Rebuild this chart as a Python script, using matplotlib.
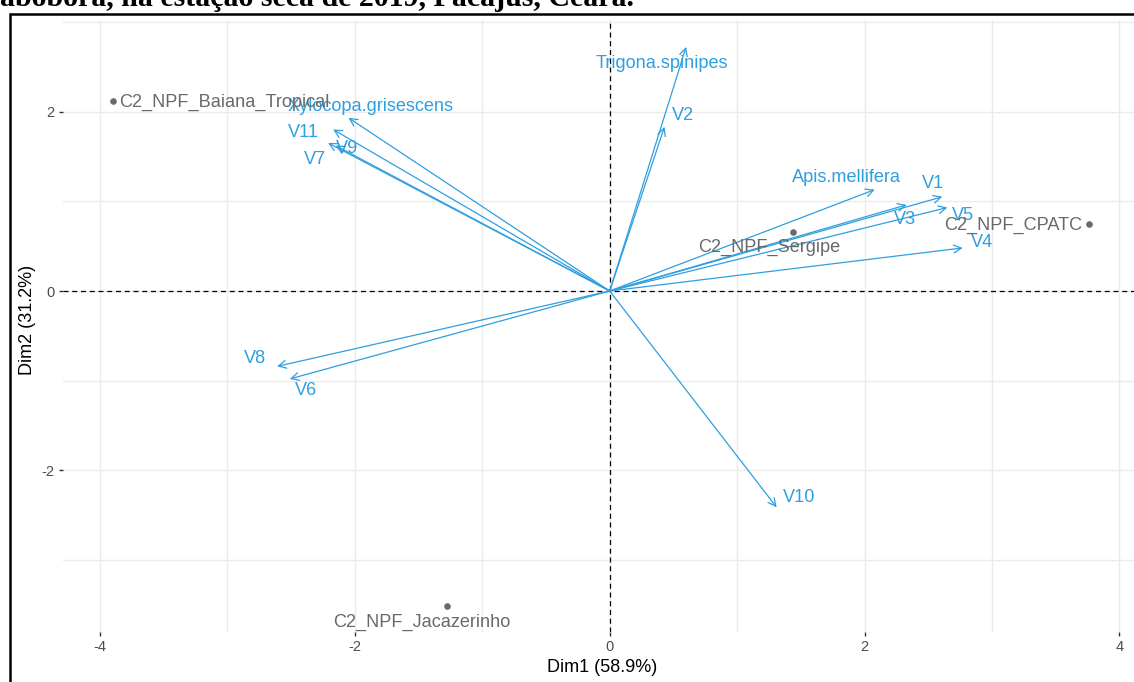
import matplotlib

matplotlib.use("Agg")
from matplotlib import pyplot as plt
from matplotlib.patches import Rectangle

plt.rcParams["font.family"] = ["Liberation Sans", "DejaVu Sans"]

# variables (arrows)
var_names = [
    "Trigona.spinipes", "V2", "Xylocopa.grisescens", "V11", "V9", "V7",
    "Apis.mellifera", "V1", "V3", "V5", "V4", "V8", "V6", "V10",
]
var_dim1 = [0.60, 0.43, -2.05, -2.17, -2.21, -2.15, 2.08, 2.61, 2.33, 2.65, 2.77, -2.61, -2.51, 1.31]
var_dim2 = [2.72, 1.83, 1.93, 1.80, 1.65, 1.62, 1.13, 1.05, 0.96, 0.93, 0.48, -0.84, -0.98, -2.41]

# individuals (points)
ind_names = ["C2_NPF_Baiana_Tropical", "C2_NPF_Sergipe", "C2_NPF_CPATC", "C2_NPF_Jacazerinho"]
ind_dim1 = [-3.90, 1.44, 3.76, -1.28]
ind_dim2 = [2.12, 0.66, 0.75, -3.51]

x_ticks = [-4, -2, 0, 2, 4]
y_ticks = [-2, 0, 2]

# label offsets in pixels (dx right, dy up) and alignment
var_offsets = [(-24, -17), (19, 11), (22, 11), (-30, -3), (19, -6), (-21, -14),
               (-28, 12), (-9, 13), (-2, -15), (16, -8), (19, 5), (-22, 8), (16, -12), (22, 10)]
ind_offsets = [(6, -2, "left"), (-24, -16, "center"), (-7, -2, "right"), (-25, -16, "center")]

blue = "#2E9FDF"
grey_ind = "#696969"
label_size = 13.1

W, H = 1134, 682
fig = plt.figure(figsize=(W / 100, H / 100), dpi=100)

# panel placement in pixels
px_left, px_right, px_top, px_bottom = 63, 1150, 20, 632
ax = fig.add_axes([px_left / W, 1 - px_bottom / H, (px_right - px_left) / W, (px_bottom - px_top) / H])
ax.set_xlim(-4.29, 4.24)
ax.set_ylim(-3.80, 3.02)

# grid (major + minor)
for v in [-4, -3, -2, -1, 0, 1, 2, 3, 4]:
    ax.axvline(v, color="#EBEBEB", lw=1.0, zorder=0)
for v in [-3, -2, -1, 0, 1, 2, 3]:
    ax.axhline(v, color="#EBEBEB", lw=1.0, zorder=0)

ax.axhline(0, color="black", lw=0.9, ls=(0, (4, 3)), zorder=1)
ax.axvline(0, color="black", lw=0.9, ls=(0, (4, 3)), zorder=1)

for name, x, y, (dx, dy) in zip(var_names, var_dim1, var_dim2, var_offsets):
    ax.annotate(
        "", xy=(x, y), xytext=(0, 0),
        arrowprops=dict(arrowstyle="->,head_length=0.55,head_width=0.28", color=blue,
                        lw=0.9, shrinkA=0, shrinkB=0),
        zorder=3,
    )
    ax.annotate(name, xy=(x, y), xytext=(dx, dy), textcoords="offset pixels",
                ha="center", va="center", color=blue, fontsize=label_size, zorder=4)

ax.scatter(ind_dim1, ind_dim2, s=14, color=grey_ind, zorder=5)
for name, x, y, (dx, dy, ha) in zip(ind_names, ind_dim1, ind_dim2, ind_offsets):
    ax.annotate(name, xy=(x, y), xytext=(dx, dy), textcoords="offset pixels",
                ha=ha, va="center", color=grey_ind, fontsize=label_size, zorder=5)

ax.set_xticks(x_ticks)
ax.set_yticks(y_ticks)
ax.set_xticklabels([str(t) for t in x_ticks])
ax.set_yticklabels([str(t) for t in y_ticks])
ax.tick_params(length=3, width=1, color="#333333", labelcolor="#4D4D4D", labelsize=10.5, pad=3)
for s in ax.spines.values():
    s.set_visible(False)

fig.text(657 / W, 1 - 667 / H, "Dim1 (58.9%)", ha="right", va="center", fontsize=13)
fig.text(27 / W, 1 - 320 / H, "Dim2 (31.2%)", ha="center", va="center", rotation=90, fontsize=13)

# frame of the document crop and cut-off caption line
fig.patches.append(Rectangle((10 / W, -0.1), 1.2, 1 - 14 / H + 0.1, transform=fig.transFigure,
                             fill=False, edgecolor="black", lw=1.8))
fig.text(0, 1 - 6 / H, "abóbora, na estação seca de 2019, Pacajus, Ceará.", ha="left",
         va="baseline", fontsize=21.5, fontweight="bold", family="Liberation Serif")

fig.savefig("out.png", dpi=100)
